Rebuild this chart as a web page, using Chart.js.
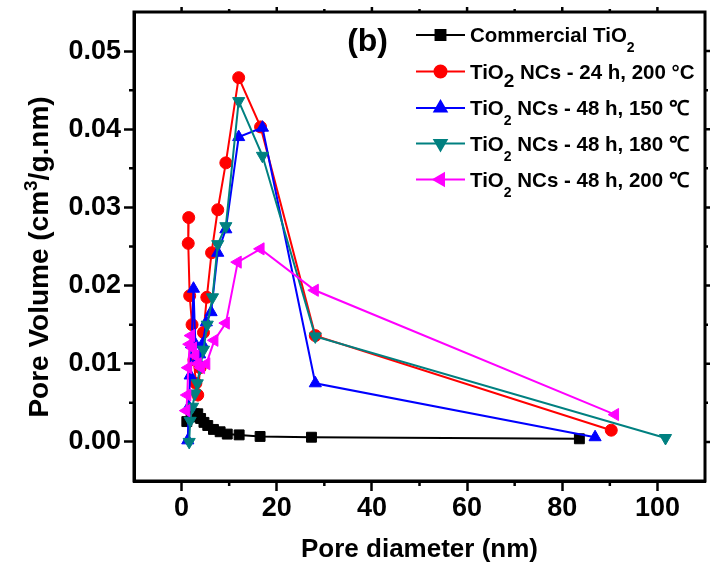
<!DOCTYPE html>
<html lang="en">
<head>
<meta charset="UTF-8">
<title>Pore size distribution</title>
<style>
  body { margin: 0; background: #fff; }
  #wrap { width: 713px; height: 569px; }
</style>
</head>
<body>
<div id="wrap"><canvas id="poreChart" width="713" height="569"></canvas></div>
<script src="https://cdn.jsdelivr.net/npm/chart.js"></script>
<script>
// pore diameter (nm) and pore volume (cm3/g.nm)
const commercialX = [1.1, 2.0, 2.7, 3.4, 4.0, 4.7, 5.5, 6.7, 8.1, 9.6, 12.1, 16.5, 27.3, 83.6];
const commercialY = [0.0026, 0.0032, 0.0036, 0.0036, 0.0030, 0.0025, 0.0021, 0.0016, 0.0013, 0.0010, 0.0009, 0.0007, 0.0006, 0.0004];

const nc24h200X = [1.5, 1.4, 1.7, 2.2, 2.6, 3.0, 3.4, 3.9, 4.6, 5.3, 6.3, 7.6, 9.3, 12.0, 16.6, 28.1, 90.3];
const nc24h200Y = [0.0287, 0.0254, 0.0187, 0.0150, 0.0105, 0.0075, 0.0060, 0.0095, 0.0140, 0.0185, 0.0242, 0.0297, 0.0357, 0.0466, 0.0403, 0.0136, 0.0015];

const nc48h150X = [1.3, 1.5, 1.8, 2.1, 2.5, 2.9, 3.3, 3.8, 4.4, 5.2, 6.2, 7.6, 9.3, 12.0, 17.0, 28.1, 86.9];
const nc48h150Y = [0.0002, 0.0045, 0.0085, 0.0125, 0.0196, 0.0125, 0.0105, 0.0112, 0.0125, 0.0153, 0.0166, 0.0242, 0.0272, 0.0390, 0.0402, 0.0075, 0.0006];

const nc48h180X = [1.6, 1.8, 2.3, 2.8, 3.3, 3.9, 4.6, 5.4, 6.5, 7.6, 9.3, 12.0, 17.0, 28.1, 101.7];
const nc48h180Y = [0.0000, 0.0027, 0.0045, 0.0062, 0.0075, 0.0095, 0.0118, 0.0150, 0.0185, 0.0253, 0.0276, 0.0436, 0.0366, 0.0135, 0.0005];

const nc48h200X = [1.0, 1.2, 1.4, 1.7, 2.0, 2.4, 2.9, 3.4, 4.1, 5.2, 6.9, 9.3, 11.8, 16.6, 28.0, 91.1];
const nc48h200Y = [0.0040, 0.0060, 0.0095, 0.0125, 0.0136, 0.0120, 0.0110, 0.0100, 0.0095, 0.0100, 0.0130, 0.0152, 0.0230, 0.0247, 0.0194, 0.0035];

const seriesNames = [
  'Commercial TiO2',
  'TiO2 NCs - 24 h, 200 °C',
  'TiO2 NCs - 48 h, 150 ℃',
  'TiO2 NCs - 48 h, 180 ℃',
  'TiO2 NCs - 48 h, 200 ℃'
];

const xTicks = [0, 20, 40, 60, 80, 100];
const xMinorTicks = [10, 30, 50, 70, 90];
const yTicks = [0, 0.01, 0.02, 0.03, 0.04, 0.05];
const yMinorTicks = [0.005, 0.015, 0.025, 0.035, 0.045];

const FONT = 'Liberation Sans, Arial, sans-serif';

function pairs(xs, ys) {
  return xs.map((x, i) => ({ x: x, y: ys[i] }));
}

function series(label, xs, ys, color, style, rotation, radius, order) {
  return {
    label: label,
    data: pairs(xs, ys),
    showLine: true,
    borderColor: color,
    backgroundColor: color,
    borderWidth: 2,
    pointStyle: style,
    rotation: rotation,
    pointRadius: radius,
    pointBorderWidth: 1,
    pointBorderColor: color,
    pointBackgroundColor: color,
    order: order
  };
}

const datasets = [
  series(seriesNames[0], commercialX, commercialY, '#000000', 'rect', 0, 7, 5),
  series(seriesNames[1], nc24h200X, nc24h200Y, '#ff0000', 'circle', 0, 6, 4),
  series(seriesNames[2], nc48h150X, nc48h150Y, '#0000ff', 'triangle', 0, 7, 3),
  series(seriesNames[3], nc48h180X, nc48h180Y, '#008080', 'triangle', 180, 7, 2),
  series(seriesNames[4], nc48h200X, nc48h200Y, '#ff00ff', 'triangle', 270, 7, 1)
];

// box frame, minor ticks and the mirrored top/right ticks
const framePlugin = {
  id: 'frame',
  afterDraw(chart) {
    const ctx = chart.ctx;
    const a = chart.chartArea;
    const xs = chart.scales.x, ys = chart.scales.y;
    ctx.save();
    ctx.strokeStyle = '#000';
    ctx.lineWidth = 3;
    ctx.strokeRect(a.left, a.top, a.right - a.left, a.bottom - a.top);
    ctx.lineWidth = 2.5;
    ctx.beginPath();
    xMinorTicks.forEach(v => {
      const px = xs.getPixelForValue(v);
      ctx.moveTo(px, a.bottom); ctx.lineTo(px, a.bottom + 5);
      ctx.moveTo(px, a.top); ctx.lineTo(px, a.top - 3);
    });
    xTicks.forEach(v => {
      const px = xs.getPixelForValue(v);
      ctx.moveTo(px, a.top); ctx.lineTo(px, a.top - 5);
    });
    yMinorTicks.forEach(v => {
      const py = ys.getPixelForValue(v);
      ctx.moveTo(a.left, py); ctx.lineTo(a.left - 5, py);
      ctx.moveTo(a.right, py); ctx.lineTo(a.right + 3, py);
    });
    yTicks.forEach(v => {
      const py = ys.getPixelForValue(v);
      ctx.moveTo(a.right, py); ctx.lineTo(a.right + 5, py);
    });
    ctx.stroke();

    // y axis title with superscript
    ctx.translate(38, 257);
    ctx.rotate(-Math.PI / 2);
    ctx.fillStyle = '#000';
    ctx.textBaseline = 'alphabetic';
    ctx.textAlign = 'left';
    const big = 'bold 28px ' + FONT, small = 'bold 19px ' + FONT;
    const p1 = 'Pore Volume (cm', p2 = '3', p3 = '/g.nm)';
    ctx.font = big; const w1 = ctx.measureText(p1).width, w3 = ctx.measureText(p3).width;
    ctx.font = small; const w2 = ctx.measureText(p2).width;
    let x0 = -(w1 + w2 + w3) / 2;
    const base = 10;
    ctx.font = big; ctx.fillText(p1, x0, base);
    ctx.font = small; ctx.fillText(p2, x0 + w1, base - 11);
    ctx.font = big; ctx.fillText(p3, x0 + w1 + w2, base);
    ctx.restore();
  }
};

// legend with line + marker and subscripted TiO2
const legendPlugin = {
  id: 'figLegend',
  afterDraw(chart) {
    const ctx = chart.ctx;
    const rowY = [35, 71.5, 108, 143.5, 179.5];
    ctx.save();
    ctx.textAlign = 'left';
    ctx.textBaseline = 'alphabetic';
    datasets.forEach((ds, i) => {
      const y = rowY[i];
      ctx.strokeStyle = ds.borderColor;
      ctx.fillStyle = ds.borderColor;
      ctx.lineWidth = 2;
      ctx.beginPath();
      ctx.moveTo(416, y); ctx.lineTo(465, y);
      ctx.stroke();
      Chart.helpers.drawPoint(ctx, {
        pointStyle: ds.pointStyle, rotation: ds.rotation, radius: ds.pointRadius, borderWidth: 1
      }, 440.5, y);

      ctx.fillStyle = '#000';
      const name = ds.label;
      const k = name.indexOf('TiO2');
      const before = name.slice(0, k) + 'TiO';
      const after = name.slice(k + 4);
      const subBig = i === 1;
      let x = 470;
      ctx.font = 'bold 20.5px ' + FONT;
      ctx.fillText(before, x, y + 7);
      x += ctx.measureText(before).width;
      ctx.font = (subBig ? 'bold 19px ' : 'bold 14px ') + FONT;
      ctx.fillText('2', x, y + (subBig ? 15 : 17));
      x += ctx.measureText('2').width;
      ctx.font = 'bold 20.5px ' + FONT;
      ctx.fillText(after, x, y + 7);
    });
    ctx.font = 'bold 32px ' + FONT;
    ctx.textAlign = 'right';
    ctx.fillText('(b)', 388, 51);
    ctx.restore();
  }
};

const tickFont = { family: FONT, size: 27, weight: 'bold' };

const ctx = document.getElementById('poreChart').getContext('2d');
const poreChart = new Chart(ctx, {
  type: 'scatter',
  data: { datasets: datasets },
  options: {
    responsive: false,
    animation: false,
    layout: { padding: { top: 12, right: 4, left: 0, bottom: 0 } },
    plugins: { legend: { display: false }, tooltip: { enabled: false } },
    scales: {
      x: {
        type: 'linear',
        min: -10,
        max: 110,
        afterBuildTicks: s => { s.ticks = xTicks.map(v => ({ value: v })); },
        afterFit: s => { s.height = 88; s.paddingLeft = 0; s.paddingRight = 0; },
        grid: { drawOnChartArea: false, tickLength: 10, tickWidth: 2.5, tickColor: '#000' },
        border: { width: 3, color: '#000' },
        ticks: { font: tickFont, color: '#000', padding: 1, maxRotation: 0 },
        title: {
          display: true,
          text: 'Pore diameter (nm)',
          color: '#000',
          font: { family: FONT, size: 26, weight: 'bold' },
          padding: { top: 0, bottom: 4 }
        }
      },
      y: {
        type: 'linear',
        min: -0.005,
        max: 0.055,
        afterBuildTicks: s => { s.ticks = yTicks.map(v => ({ value: v })); },
        afterFit: s => { s.width = 134; s.paddingTop = 0; s.paddingBottom = 0; },
        grid: { drawOnChartArea: false, tickLength: 10, tickWidth: 2.5, tickColor: '#000' },
        border: { width: 3, color: '#000' },
        ticks: { font: tickFont, color: '#000', padding: 3, callback: v => v.toFixed(2) }
      }
    }
  },
  plugins: [framePlugin, legendPlugin]
});
</script>
</body>
</html>
